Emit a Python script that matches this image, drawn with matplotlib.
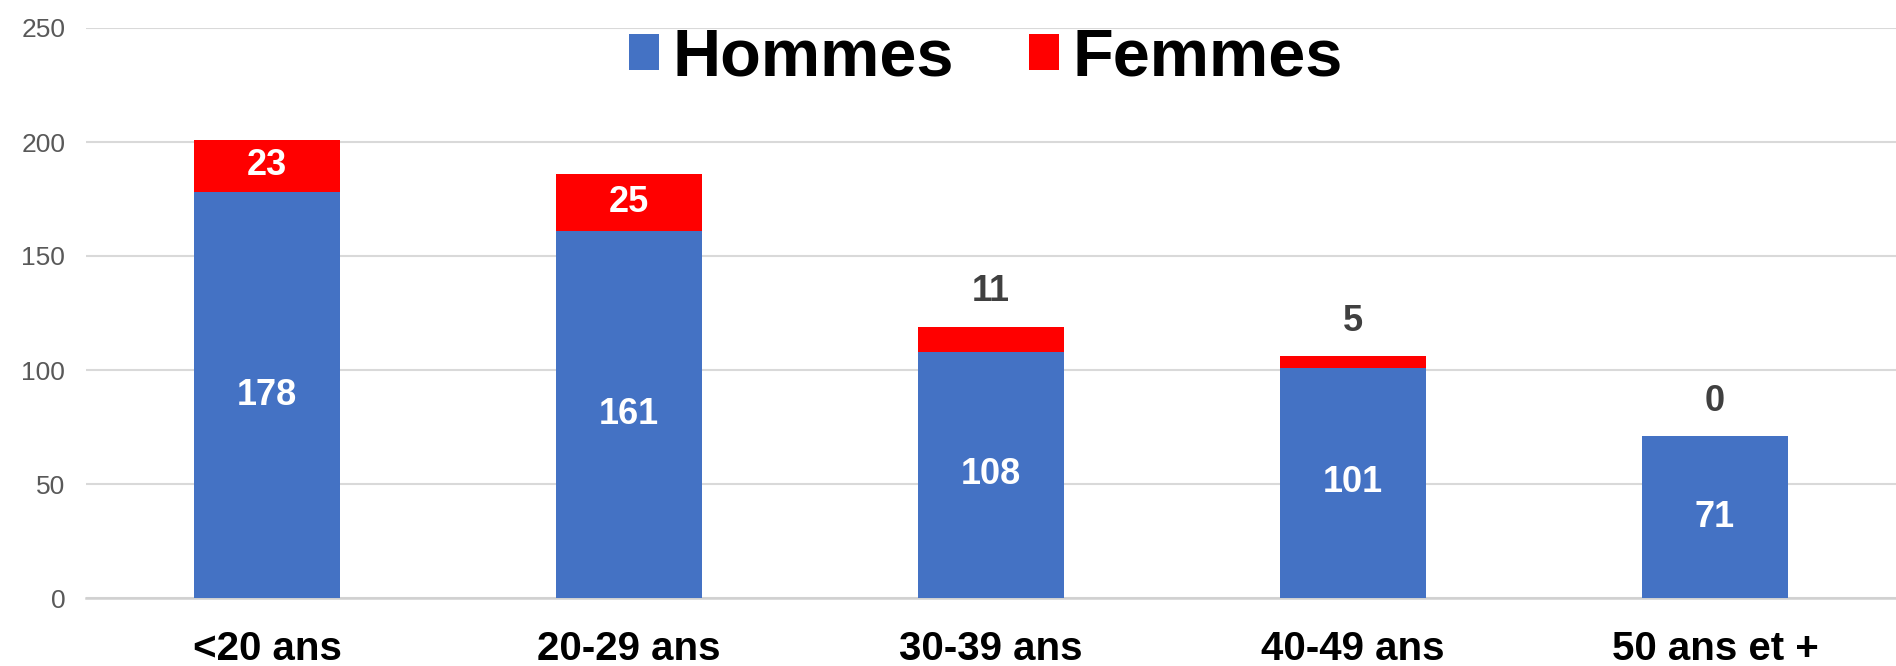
import matplotlib
matplotlib.use("Agg")
import matplotlib.pyplot as plt
import numpy as np

plt.rcParams["font.family"] = ["Liberation Sans", "DejaVu Sans"]

# Données
categories = ["<20 ans", "20-29 ans", "30-39 ans", "40-49 ans", "50 ans et +"]
hommes = [178, 161, 108, 101, 71]
femmes = [23, 25, 11, 5, 0]
yticks = [0, 50, 100, 150, 200, 250]

BLUE = "#4472C4"
RED = "#FF0000"

fig = plt.figure(figsize=(18.96, 6.66), dpi=100)
ax = fig.add_axes([86 / 1896, 68 / 666, 1 - 86 / 1896, 570 / 666])

x = np.arange(len(categories))
width = 0.405
b1 = ax.bar(x, hommes, width, color=BLUE, label="Hommes", zorder=3)
b2 = ax.bar(x, femmes, width, bottom=hommes, color=RED, label="Femmes", zorder=3)

# étiquettes des hommes (au milieu de la barre)
for xi, h in zip(x, hommes):
    ax.text(xi, h / 2, str(h), ha="center", va="center", color="white",
            fontsize=26, fontweight="bold", zorder=4)

# étiquettes des femmes : dedans si assez de place, sinon au-dessus
for xi, h, f in zip(x, hommes, femmes):
    if f >= 20:
        ax.text(xi, h + f / 2, str(f), ha="center", va="center", color="white",
                fontsize=26, fontweight="bold", zorder=4)
    else:
        ax.annotate(str(f), (xi, h + f), xytext=(0, 25), textcoords="offset points",
                    ha="center", va="center", color="#404040",
                    fontsize=26, fontweight="bold", zorder=4)

ax.set_xlim(-0.5, len(categories) - 0.5)
ax.set_ylim(0, 250)
ax.set_yticks(yticks)
ax.set_xticks(x)
ax.set_xticklabels(categories, fontsize=29, fontweight="bold", color="black")
ax.tick_params(axis="x", length=0, pad=23)
ax.tick_params(axis="y", length=0, pad=15, labelsize=19, labelcolor="#595959")
ax.grid(axis="y", color="#d9d9d9", linewidth=1.5, zorder=0)
for s in ["top", "right", "left"]:
    ax.spines[s].set_visible(False)
ax.spines["bottom"].set_color("#d0d0d0")
ax.spines["bottom"].set_linewidth(1.8)

fig.legend(handles=[b1, b2], labels=["Hommes", "Femmes"], loc="center",
           bbox_to_anchor=(0.52, 0.912), ncol=2, frameon=False,
           prop={"size": 48, "weight": "bold"},
           handlelength=0.46, handleheight=0.45, handletextpad=0.2,
           columnspacing=1.12)

fig.savefig("out.png", dpi=100)
